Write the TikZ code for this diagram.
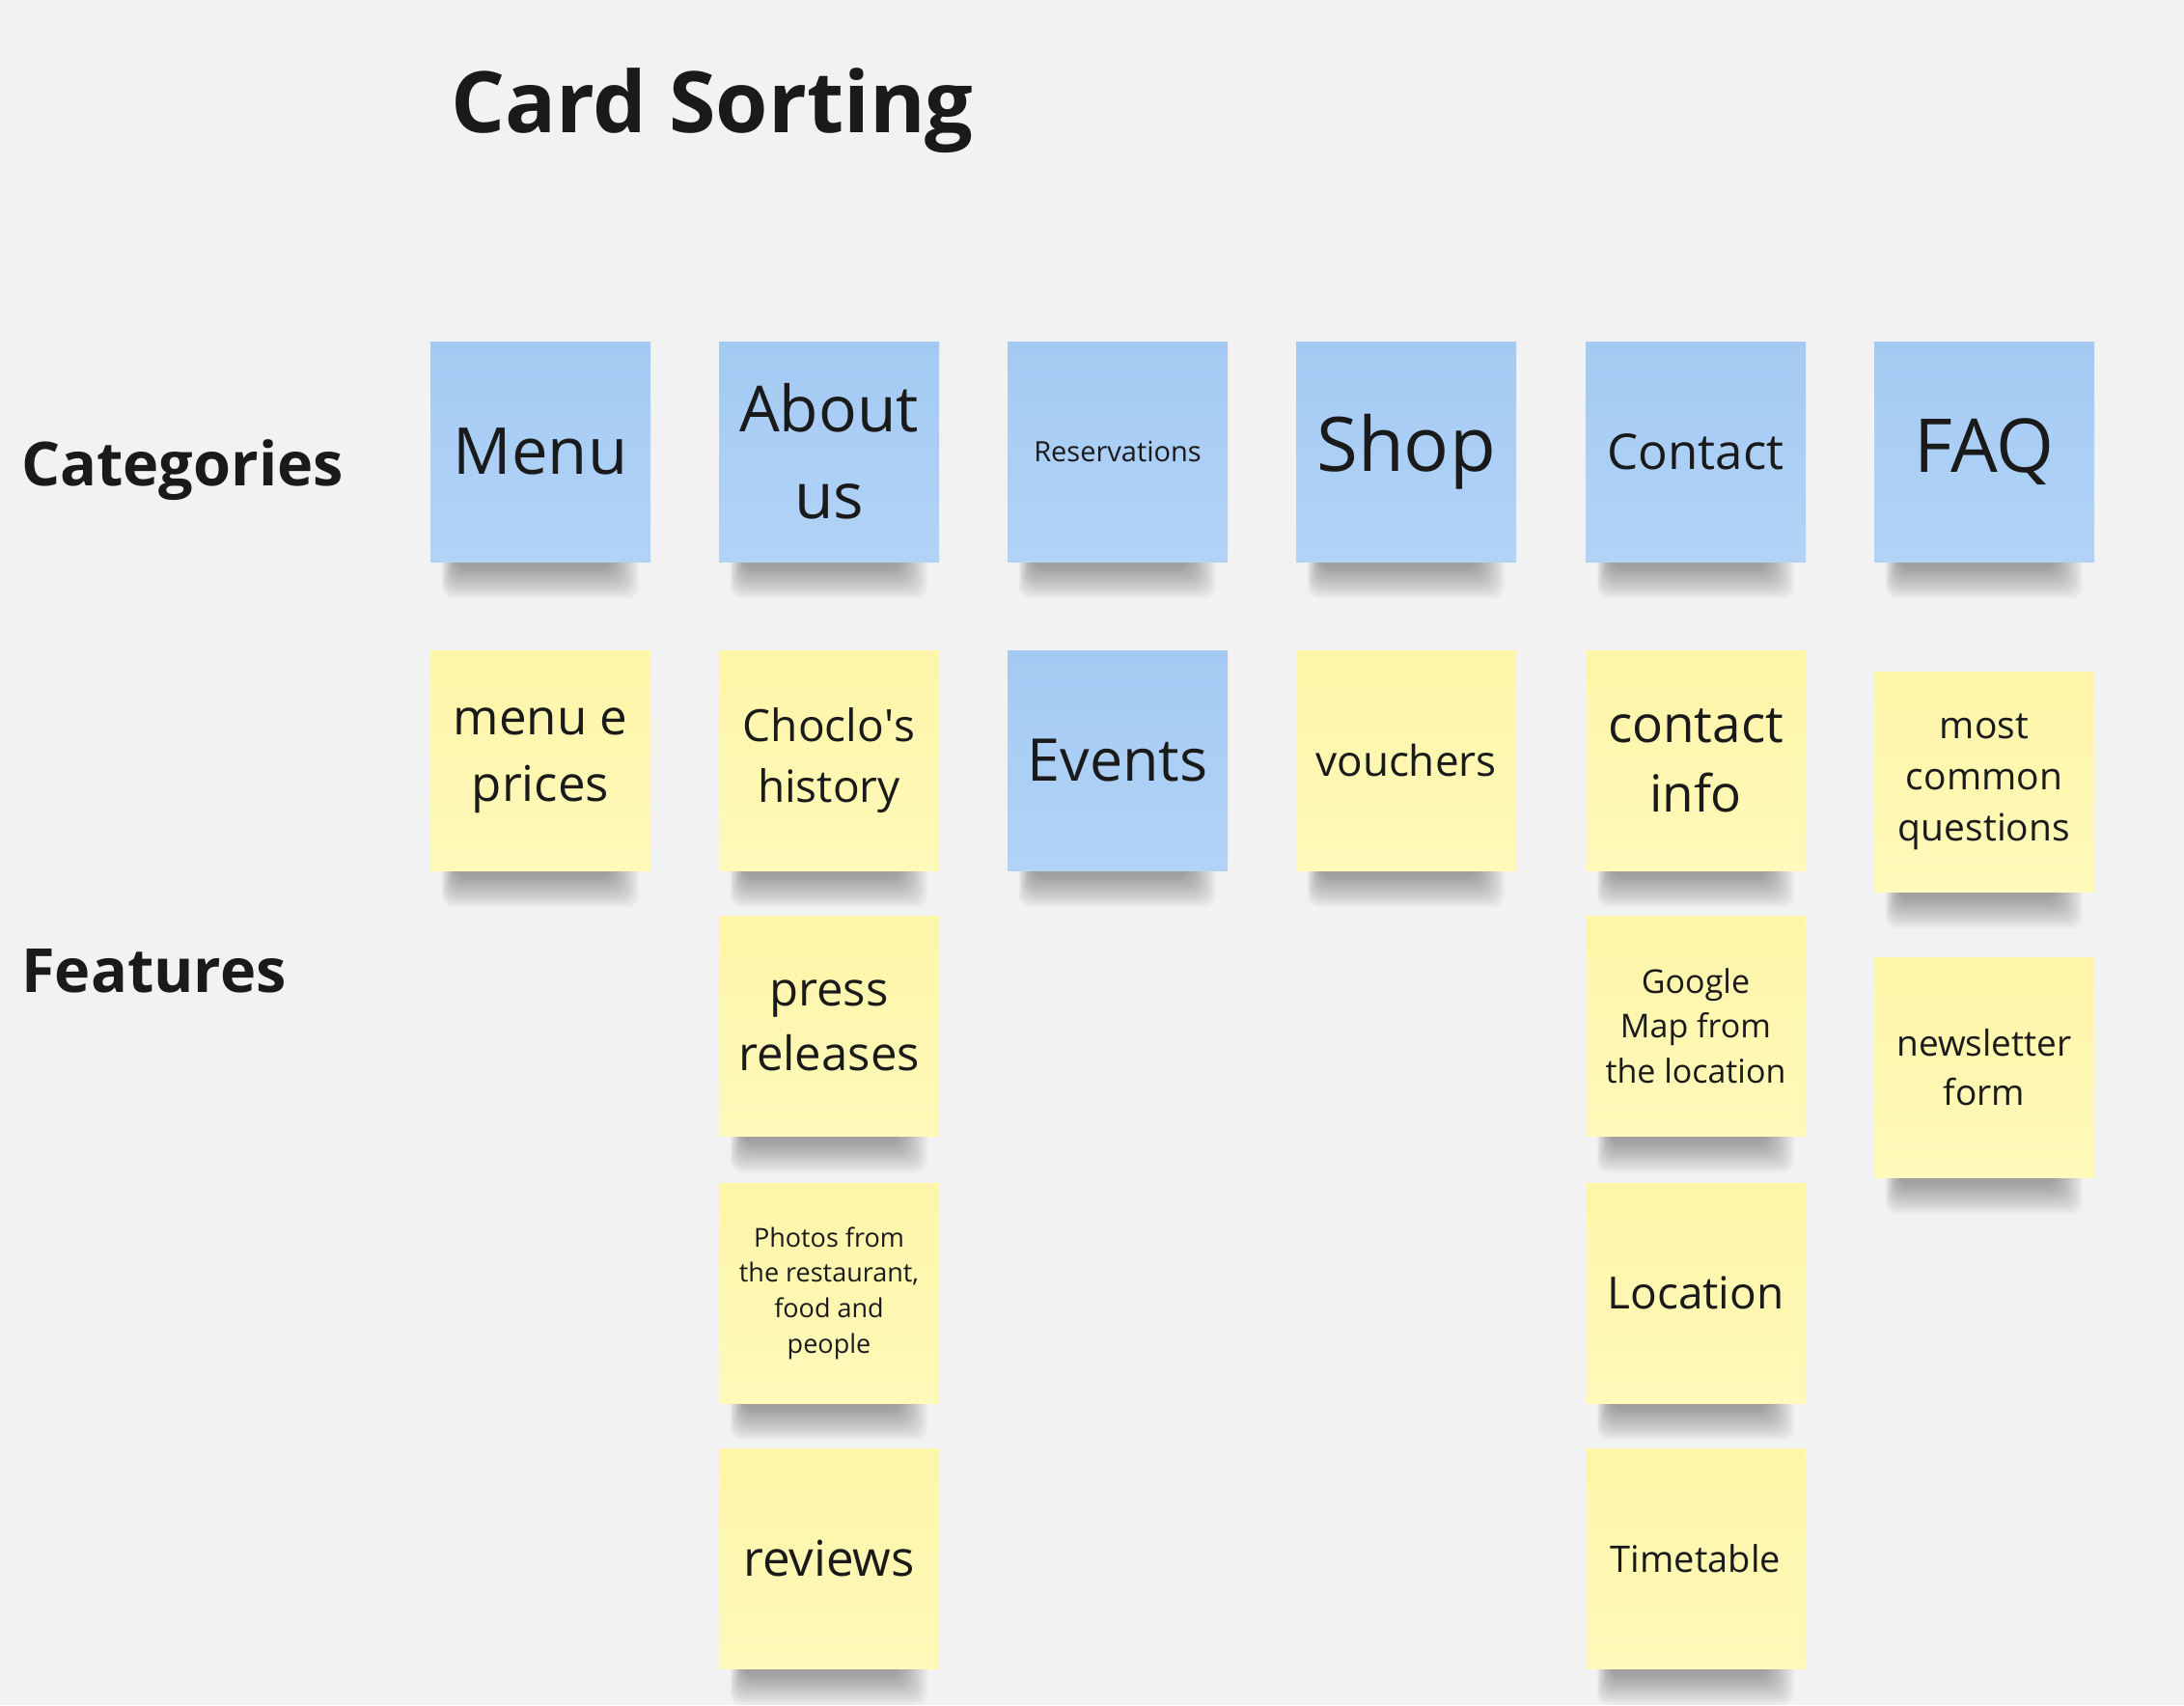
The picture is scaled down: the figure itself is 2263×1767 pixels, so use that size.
\documentclass[tikz,border=0pt]{standalone}
\usepackage{fontspec}
\setmainfont{Open Sans}
\usetikzlibrary{positioning,backgrounds}

\definecolor{canvas}{HTML}{F2F2F2}
\definecolor{inkdark}{HTML}{1A1A1A}
\definecolor{stickyblue}{HTML}{A4CAF3}
\definecolor{stickybluelight}{HTML}{B2D3F7}
\definecolor{stickyyellow}{HTML}{FDF5A8}
\definecolor{stickyyellowlight}{HTML}{FFF9BA}

\newcommand{\fsize}[1]{\fontsize{#1pt}{\dimexpr #1pt*136/100\relax}\selectfont}

\tikzset{
  note/.style={minimum size=228pt, inner sep=0pt, align=center, text=inkdark},
  bluenote/.style={note, top color=stickyblue, bottom color=stickybluelight},
  yellownote/.style={note, top color=stickyyellow, bottom color=stickyyellowlight},
  heading/.style={anchor=base west, inner sep=0pt, text=inkdark},
}

\begin{document}
\begin{tikzpicture}[x=1pt, y=-1pt]
    % ---- Headings ----
    \node[heading, font=\bfseries\fsize{88}] (title) at (467,137) {Card Sorting};
    \node[heading, font=\bfseries\fsize{63}] (categories) at (22,503) {Categories};
    \node[heading, font=\bfseries\fsize{63}] (features) at (22,1028) {Features};

    % ---- Categories row ----
    \node[bluenote, font=\fsize{67}] (menu) at (560,468) {Menu};
    \node[bluenote, font=\fsize{66}] (about) at (859,468) {About\\us};
    \node[bluenote, font=\fsize{29}] (reservations) at (1158,468) {Reservations};
    \node[bluenote, font=\fsize{78}] (shop) at (1457,468) {Shop};
    \node[bluenote, font=\fsize{51}] (contact) at (1757,468) {Contact};
    \node[bluenote, font=\fsize{77}] (faq) at (2056,468) {FAQ};

    % ---- Features ----
    \node[yellownote, font=\fsize{51}] (prices) at (560,788) {menu e\\prices};
    \node[yellownote, font=\fsize{46}] (history) at (859,788) {Choclo\textquotesingle s\\history};
    \node[bluenote, font=\fsize{61}] (events) at (1158,788) {Events};
    \node[yellownote, font=\fsize{44}] (vouchers) at (1457,788) {vouchers};
    \node[yellownote, font=\fsize{53}] (contactinfo) at (1757,788) {contact\\info};
    \node[yellownote, font=\fsize{39}] (questions) at (2056,810) {most\\common\\questions};

    \node[yellownote, font=\fsize{49}] (press) at (859,1063) {press\\releases};
    \node[yellownote, font=\fsize{34}] (googlemap) at (1757,1063) {Google\\Map from\\the location};
    \node[yellownote, font=\fsize{37}] (newsletter) at (2056,1106) {newsletter\\form};

    \node[yellownote, font=\fsize{27}] (photos) at (859,1340) {Photos from\\the restaurant,\\food and\\people};
    \node[yellownote, font=\fsize{46}] (location) at (1757,1340) {Location};

    \node[yellownote, font=\fsize{51}] (reviews) at (859,1615) {reviews};
    \node[yellownote, font=\fsize{38}] (timetable) at (1757,1615) {Timetable};

    % ---- canvas and shadows ----
    \begin{scope}[on background layer]
      \fill[canvas] (0,0) rectangle (2263,1767);
      \foreach \n in {menu,about,reservations,shop,contact,faq,prices,history,events,vouchers,contactinfo,questions,press,googlemap,newsletter,photos,location,reviews,timetable}
        \foreach \i in {0,...,11}
          \fill[black, opacity=0.03, rounded corners=12pt]
            ([xshift={(12+1.2*\i)*1pt}, yshift=10pt]\n.south west)
            rectangle ([xshift={-(12+2.6*\i)*1pt}, yshift={-(38-2.8*\i)*1pt}]\n.south east);
    \end{scope}
\end{tikzpicture}
\end{document}
